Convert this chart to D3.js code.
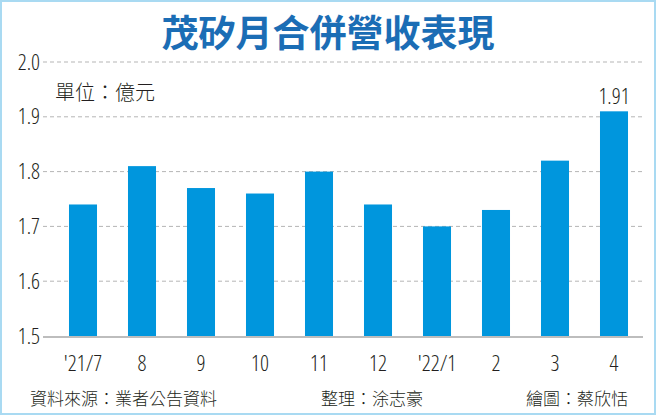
<!DOCTYPE html>
<html>
<head>
<meta charset="utf-8">
<script src="https://cdn.jsdelivr.net/npm/d3@7"></script>
<style>
  body { margin: 0; background: #fff; }
  svg { display: block; }
  text { fill: #231f20; }
  .num { font-family: 'Open Sans', Roboto, sans-serif; font-stretch: 87%; font-weight: 300; font-size: 22px; }
  .cjk { font-family: 'Noto Sans CJK TC', 'Noto Sans CJK SC', sans-serif; font-weight: 300; }
</style>
</head>
<body>
<svg id="chart" width="656" height="415"></svg>
<script>
// chart data
var months = ["'21/7", "8", "9", "10", "11", "12", "'22/1", "2", "3", "4"];
var revenue = [1.74, 1.81, 1.77, 1.76, 1.80, 1.74, 1.70, 1.73, 1.82, 1.91];
var yTicks = [1.5, 1.6, 1.7, 1.8, 1.9, 2.0];

var svg = d3.select("#chart");

// frame
svg.append("rect")
    .attr("x", 1).attr("y", 1)
    .attr("width", 654).attr("height", 413)
    .attr("fill", "none")
    .attr("stroke", "#a9daf2")
    .attr("stroke-width", 2);

var x = d3.scaleBand()
    .domain(months)
    .range([53.5, 643.5])
    .paddingInner(0.525)
    .paddingOuter(0.2625);

var y = d3.scaleLinear()
    .domain([1.5, 2.0])
    .range([336, 62]);

// title
svg.append("text")
    .attr("x", 328).attr("y", 47)
    .attr("text-anchor", "middle")
    .style("font-family", "'Noto Sans CJK TC', sans-serif")
    .style("font-size", "37px")
    .style("font-weight", "bold")
    .style("fill", "#1b6db5")
    .text("茂矽月合併營收表現");

// grid lines
svg.append("g")
    .selectAll("line")
    .data(yTicks.filter(d => d > 1.5))
    .enter().append("line")
    .attr("x1", 43).attr("x2", 643)
    .attr("y1", d => y(d)).attr("y2", d => y(d))
    .attr("stroke", "#b5b5b5")
    .attr("stroke-width", 1)
    .attr("stroke-dasharray", "4,3");

// y axis labels
var yAxis = d3.axisLeft(y)
    .tickValues(yTicks)
    .tickFormat(d3.format(".1f"))
    .tickSize(0)
    .tickPadding(3);

svg.append("g")
    .attr("transform", "translate(43,0)")
    .call(yAxis)
    .call(g => g.select(".domain").remove())
    .selectAll("text")
    .attr("class", "num")
    .attr("font-size", null)
    .attr("font-family", null);

// bars
svg.append("g")
    .selectAll("rect")
    .data(revenue)
    .enter().append("rect")
    .attr("x", (d, i) => x(months[i]))
    .attr("width", x.bandwidth())
    .attr("y", d => y(d))
    .attr("height", d => y(1.5) - y(d))
    .attr("fill", "#0096dd");

// baseline
svg.append("line")
    .attr("x1", 43).attr("x2", 643)
    .attr("y1", y(1.5) + 1).attr("y2", y(1.5) + 1)
    .attr("stroke", "#bdbdbd")
    .attr("stroke-width", 2);

// x axis labels
var xAxis = d3.axisBottom(x).tickSize(0).tickPadding(0);
svg.append("g")
    .attr("transform", "translate(0,355)")
    .call(xAxis)
    .call(g => g.select(".domain").remove())
    .selectAll("text")
    .attr("dy", "0.71em")
    .attr("class", "num");

// last value label
var last = revenue.length - 1;
svg.append("text")
    .attr("class", "num")
    .attr("x", x(months[last]) + x.bandwidth() / 2)
    .attr("y", y(revenue[last]) - 7)
    .attr("text-anchor", "middle")
    .text(d3.format(".2f")(revenue[last]));

// unit
svg.append("text")
    .attr("class", "cjk")
    .attr("x", 55).attr("y", 100)
    .style("font-size", "20px")
    .text("單位：億元");

// footer
var foot = [
  { t: "資料來源：業者公告資料", x: 30, a: "start" },
  { t: "整理：涂志豪", x: 372, a: "middle" },
  { t: "繪圖：蔡欣恬", x: 628, a: "end" }
];
svg.append("g")
    .selectAll("text")
    .data(foot)
    .enter().append("text")
    .attr("class", "cjk")
    .attr("x", d => d.x)
    .attr("y", 405)
    .attr("text-anchor", d => d.a)
    .style("font-size", "17px")
    .text(d => d.t);
</script>
</body>
</html>
